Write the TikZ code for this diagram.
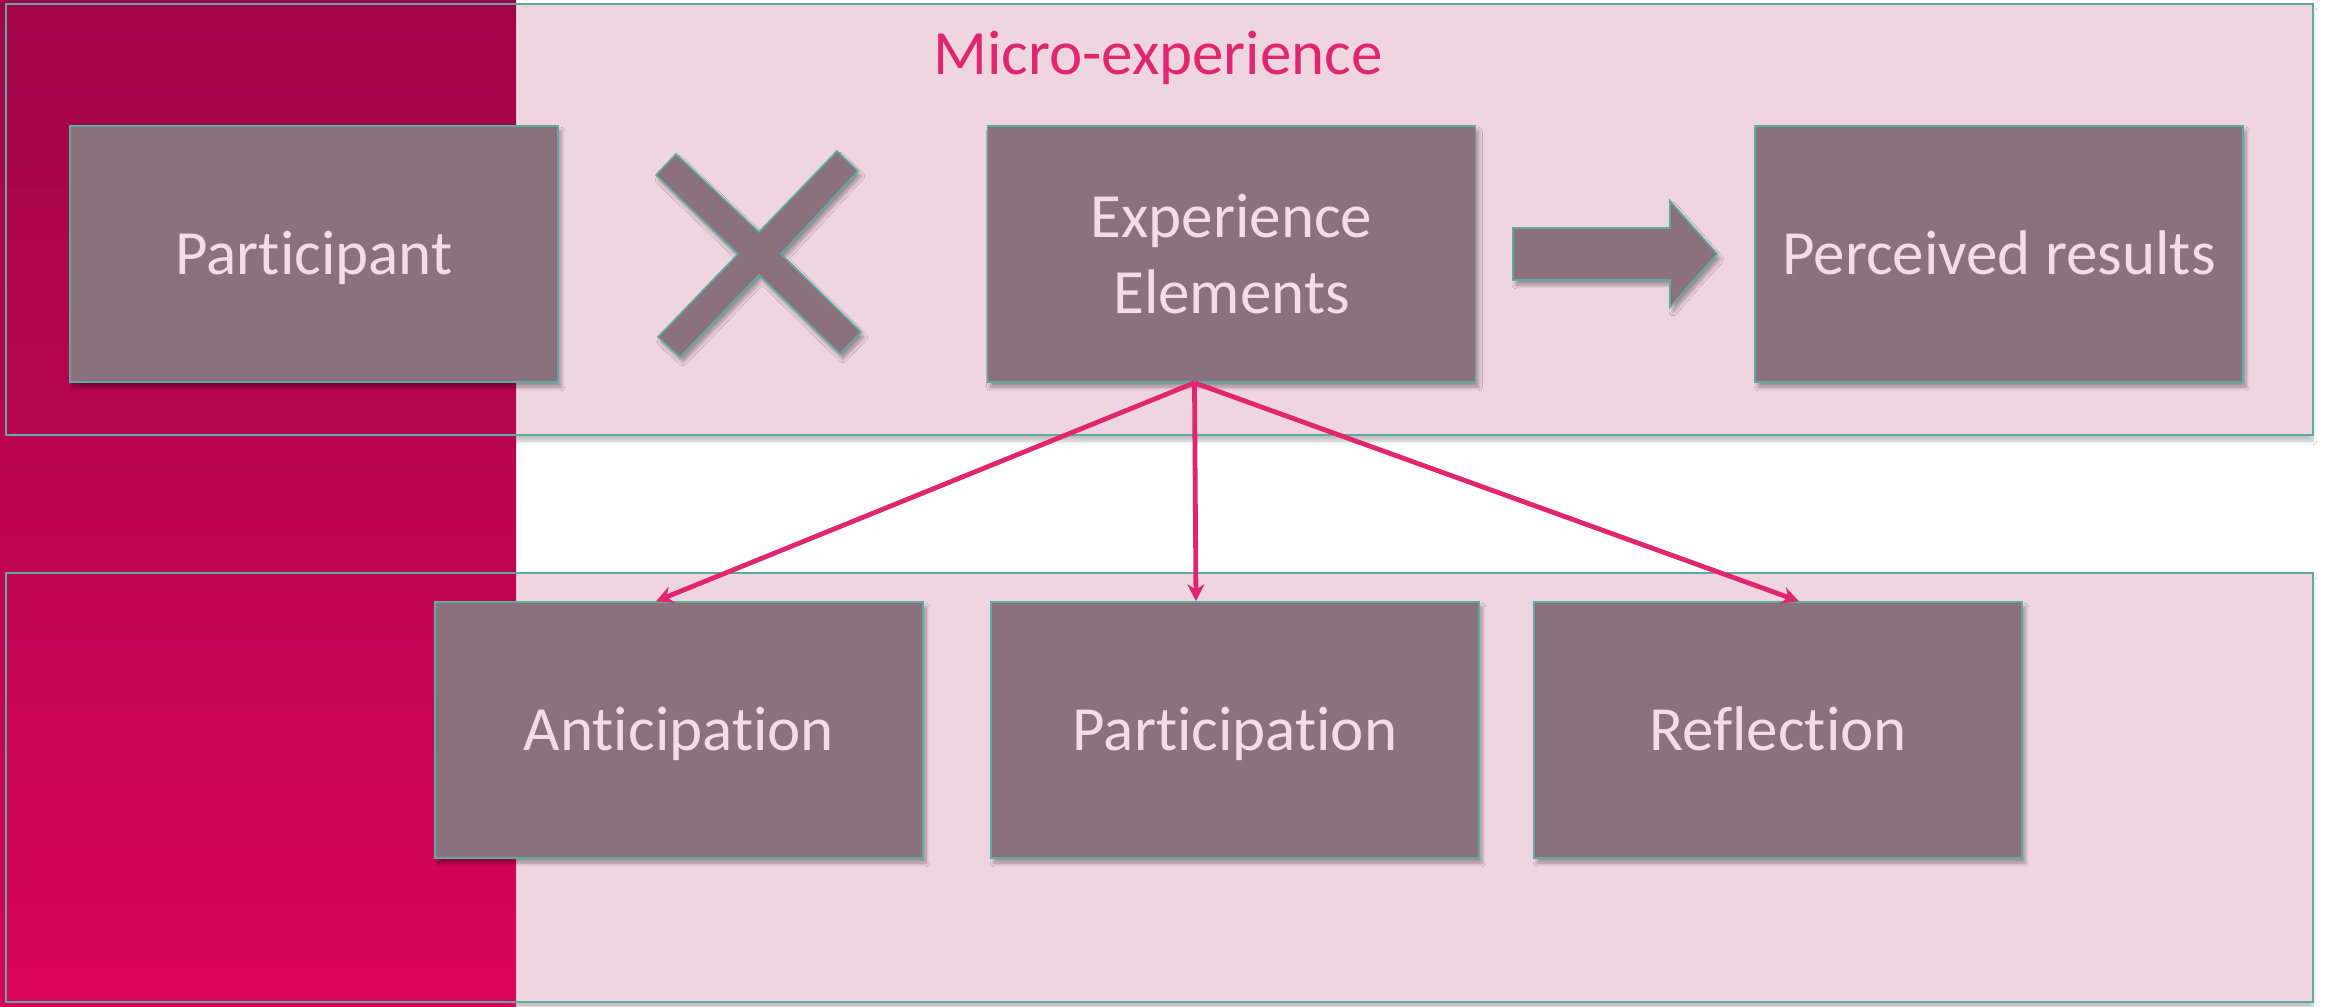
\documentclass[tikz,border=0pt]{standalone}
\usepackage{fontspec}
\setmainfont{Carlito}[Ligatures={NoCommon}]
\usetikzlibrary{arrows.meta,calc,shadows,shadows.blur}

\definecolor{crimsonTop}{RGB}{160,5,72}
\definecolor{crimsonBot}{RGB}{217,4,90}
\definecolor{panelPink}{RGB}{239,213,224}
\definecolor{boxMauve}{RGB}{138,113,124}
\definecolor{edgeTeal}{RGB}{92,172,162}
\definecolor{labelPink}{RGB}{242,220,230}
\definecolor{accent}{RGB}{224,38,110}

\tikzset{
  x=0.5bp, y=-0.5bp,
  panel/.style={draw=edgeTeal, line width=1.3bp},
  stagebox/.style={
    rectangle, fill=boxMauve, draw=edgeTeal, line width=0.8bp,
    minimum width=244bp, minimum height=128bp, inner sep=0pt,
    text=labelPink, font=\fontsize{31.5bp}{38bp}\selectfont, align=center,
    blur shadow={shadow xshift=1.5bp, shadow yshift=-2.5bp, shadow blur steps=6, shadow opacity=35}},
  oneline/.style={text height=20bp, text depth=0bp},
  glyph/.style={
    fill=boxMauve, draw=edgeTeal, line width=0.8bp,
    blur shadow={shadow xshift=1.5bp, shadow yshift=-2.5bp, shadow blur steps=6, shadow opacity=35}},
  flow/.style={draw=accent, line width=2.4bp, -{Stealth[length=8.5bp, width=8.5bp]}},
}

\begin{document}
\begin{tikzpicture}
  \useasboundingbox (0,0) rectangle (2325,1006);
  \fill[white] (0,0) rectangle (2325,1006);

  % light panels behind the two rows
  \fill[panelPink, blur shadow={shadow xshift=0bp, shadow yshift=-3bp, shadow blur steps=6, shadow opacity=25}]
    (6,4) rectangle (2313,435);
  \fill[panelPink, blur shadow={shadow xshift=0bp, shadow yshift=-3bp, shadow blur steps=6, shadow opacity=25}]
    (6,573) rectangle (2313,1002);

  % crimson side band
  \shade[top color=crimsonTop, bottom color=crimsonBot] (0,0) rectangle (516,1006);

  % panel outlines
  \draw[panel] (6,4) rectangle (2313,435);
  \draw[panel] (6,573) rectangle (2313,1002);

  % title
  \node[anchor=base, text=accent, font=\fontsize{31.5bp}{38bp}\selectfont, inner sep=0pt]
    (title) at (1158,74) {Micro-experience};

  % upper row
  \node[stagebox, oneline] (part) at (314,254) {Participant};
  \node[stagebox] (elem) at (1231.5,254) {Experience\\Elements};
  \node[stagebox, oneline] (perc) at (1999,254) {Perceived results};

  % multiplication sign
  \path[glyph] (676,154) -- (759,232) -- (837,151) -- (858,171) -- (781,254)
    -- (861,332) -- (840,354) -- (759,275) -- (680,357) -- (658,337)
    -- (738,254) -- (656,175) -- cycle;

  % block arrow
  \path[glyph] (1513,228) -- (1670,228) -- (1670,201) -- (1717,254)
    -- (1670,307) -- (1670,280) -- (1513,280) -- cycle;

  % lower row
  \node[stagebox, oneline] (anti) at (679,730) {Anticipation};
  \node[stagebox, oneline] (ptcp) at (1235,730) {Participation};
  \node[stagebox, oneline] (refl) at (1778,730) {Reflection};

  % links from the elements box to the three phases
  \coordinate (src) at ($(elem.south)+(-37,0)$);
  \draw[flow] (src) -- ($(anti.north)+(-23,0)$);
  \draw[flow] (src) -- ($(ptcp.north)+(-39,0)$);
  \draw[flow] (src) -- ($(refl.north)+(21,0)$);
\end{tikzpicture}
\end{document}
